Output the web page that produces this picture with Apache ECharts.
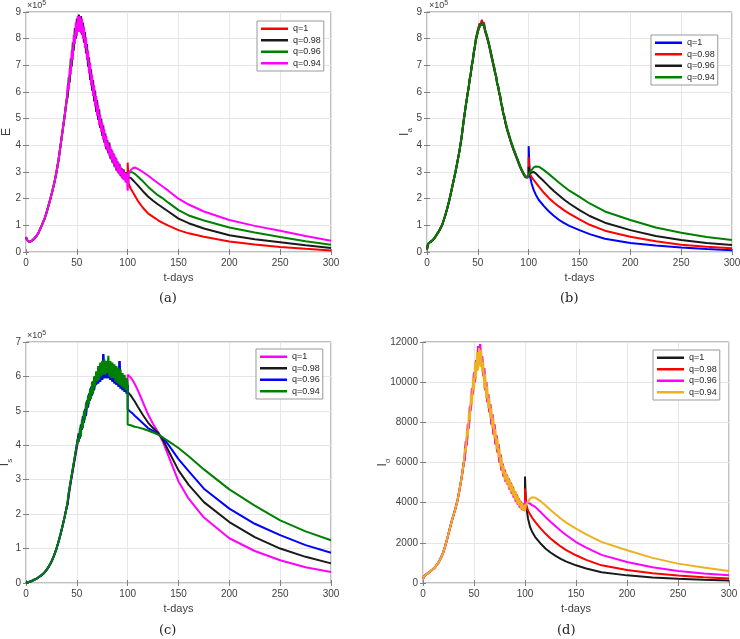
<!DOCTYPE html>
<html><head><meta charset="utf-8">
<script src="https://cdn.jsdelivr.net/npm/echarts@6/dist/echarts.min.js"></script>
<style>html,body{margin:0;padding:0;background:#fff}#c{width:740px;height:639px}</style>
</head><body><div id="c"></div>
<script>
// ---------- shared time grids (days) ----------
const tRise = [0,1,2,3,5,7,10,12,15,18,20,22,24,26,28,30,32,34,36,38,40];
const tPeak = [41,42,43,44,45,46,47,48,49,50,51,52,53,54,55,56,57,58,59,60,
  61,62,63,64,65,66,67,68,69,70,71,72,73,74,75,76,77,78,79,80,
  81,82,83,84,85,86,87,88,89,90,91,92,93,94,95,96,97,98,99,100];
const tPost = [101,103,105,107,110,115,120,125,130,135,140,150,160,175,200,225,250,275,300];
const qNames = ['q=1','q=0.98','q=0.96','q=0.94'];
const xTicks = [0,50,100,150,200,250,300];

// ---------- panel (a): E (x10^5) ----------
const aRise = [0.56,0.45,0.39,0.38,0.40,0.46,0.58,0.70,0.95,1.22,1.45,1.72,2.0,2.3,2.62,3.0,3.45,4.0,4.55,5.1,5.7];
const aPeakSmooth = [6.0,6.3,6.6,6.95,7.25,7.55,7.85,8.1,8.3,8.45, 8.55,8.6,8.6,8.55,8.45,8.3,8.15,7.95,7.75,7.5,
  7.25,7.0,6.78,6.55,6.35,6.15,5.95,5.75,5.55,5.4, 5.22,5.05,4.9,4.75,4.6,4.48,4.35,4.22,4.1,4.0,
  3.9,3.8,3.72,3.64,3.56,3.48,3.41,3.34,3.27,3.2, 3.14,3.08,3.03,2.98,2.94,2.9,2.87,2.85,2.83,2.82];
const aPeakTop = [6.25,6.05,6.9,6.65,7.55,7.2,8.15,7.8,8.6,8.1, 8.85,8.25,8.85,8.2,8.75,8.0,8.45,7.65,8.05,7.2,
  7.55,6.7,7.1,6.25,6.65,5.85,6.25,5.45,5.85,5.1, 5.5,4.75,5.15,4.5,4.85,4.2,4.6,3.95,4.35,3.8,
  4.1,3.6,3.95,3.45,3.8,3.3,3.65,3.15,3.5,3.0, 3.35,2.9,3.2,2.8,3.1,2.7,3.0,2.6,2.95,2.3];
const aPeakUnder = [5.8,6.55,6.35,7.25,6.95,7.85,7.55,8.4,8.0,8.75, 8.25,8.9,8.3,8.85,8.15,8.6,7.85,8.25,7.45,7.8,
  6.95,7.3,6.45,6.85,6.05,6.45,5.65,6.05,5.25,5.7, 4.95,5.35,4.65,5.0,4.35,4.75,4.1,4.45,3.85,4.2,
  3.7,4.1,3.5,3.85,3.35,3.7,3.2,3.55,3.05,3.4, 2.95,3.3,2.85,3.15,2.75,3.1,2.7,3.0,2.65,2.8];
const aJump = [3.35, null, null, null];
const aPostQ1   = [2.55,2.38,2.25,2.12,1.92,1.66,1.45,1.32,1.19,1.08,0.99,0.82,0.70,0.57,0.39,0.28,0.19,0.12,0.06];
const aPostQ098 = [2.85,2.78,2.70,2.62,2.50,2.28,2.08,1.92,1.78,1.65,1.52,1.25,1.08,0.88,0.63,0.48,0.37,0.25,0.15];
const aPostQ096 = [2.95,3.00,2.98,2.93,2.83,2.65,2.45,2.28,2.12,2.00,1.85,1.57,1.37,1.18,0.92,0.73,0.56,0.40,0.27];
const aPostQ094 = [2.95,3.07,3.14,3.17,3.12,3.00,2.87,2.72,2.58,2.44,2.30,2.00,1.78,1.52,1.20,0.98,0.80,0.60,0.42];

// ---------- panel (b): I_a (x10^5) ----------
const bRise = [0.10,0.30,0.34,0.37,0.42,0.50,0.68,0.80,1.02,1.38,1.65,1.95,2.3,2.65,3.0,3.4,3.8,4.3,4.9,5.45,5.95];
const bPeak = [6.2,6.45,6.7,6.95,7.2,7.45,7.7,7.92,8.1,8.25, 8.38,8.48,8.55,8.58,8.55,8.48,8.35,8.22,8.1,7.95,
  7.8,7.63,7.45,7.28,7.1,6.95,6.75,6.55,6.35,6.18, 6.0,5.8,5.6,5.4,5.22,5.05,4.9,4.75,4.6,4.48,
  4.35,4.22,4.1,4.0,3.88,3.78,3.68,3.58,3.48,3.38, 3.28,3.18,3.1,3.02,2.95,2.88,2.83,2.8,2.82,2.88];
const bPeakUnder = [6.15,6.5,6.65,7.0,7.15,7.5,7.65,7.98,8.05,8.32, 8.32,8.58,8.5,8.7,8.5,8.6,8.3,8.3,8.05,8.0,
  7.75,7.68,7.4,7.33,7.05,7.0,6.7,6.6,6.3,6.22, 5.95,5.85,5.55,5.45,5.18,5.1,4.86,4.8,4.56,4.52,
  4.31,4.26,4.06,4.04,3.84,3.82,3.64,3.62,3.44,3.42, 3.24,3.22,3.06,3.06,2.91,2.92,2.8,2.84,2.79,2.9];
const bJump = [3.97, 3.55, 3.2, null];
const bPostQ1   = [2.90,2.55,2.32,2.15,1.95,1.72,1.52,1.35,1.20,1.08,0.98,0.82,0.67,0.50,0.34,0.24,0.17,0.11,0.07];
const bPostQ098 = [2.95,2.80,2.70,2.60,2.45,2.22,2.02,1.85,1.70,1.56,1.44,1.22,1.02,0.80,0.57,0.40,0.27,0.20,0.14];
const bPostQ096 = [2.95,2.98,3.00,2.95,2.83,2.65,2.46,2.28,2.12,1.96,1.82,1.57,1.35,1.10,0.82,0.60,0.45,0.34,0.26];
const bPostQ094 = [2.98,3.08,3.17,3.21,3.20,3.07,2.92,2.76,2.60,2.45,2.30,2.07,1.82,1.52,1.20,0.92,0.72,0.56,0.45];

// ---------- panel (c): I_s (x10^5) ----------
const cRise = [0.0,0.01,0.02,0.03,0.05,0.08,0.12,0.16,0.22,0.30,0.37,0.46,0.56,0.68,0.83,1.0,1.2,1.42,1.66,1.92,2.2];
const cPeakSmooth = [2.35,2.52,2.7,2.9,3.08,3.25,3.42,3.58,3.75,3.92, 4.07,4.22,4.36,4.5,4.63,4.76,4.88,5.0,5.1,5.2,
  5.3,5.4,5.5,5.58,5.66,5.74,5.82,5.9,5.96,6.02, 6.07,6.12,6.16,6.19,6.22,6.24,6.26,6.27,6.27,6.27,
  6.26,6.25,6.23,6.21,6.19,6.16,6.13,6.1,6.07,6.04, 6.01,5.98,5.95,5.92,5.89,5.86,5.83,5.8,5.78,5.75];
const cPeakTop = [2.4,2.45,2.8,2.85,3.15,3.2,3.5,3.5,3.85,3.85, 4.2,4.1,4.5,4.25,4.75,4.5,5.0,4.75,5.25,5.05,
  5.45,5.2,5.65,5.35,5.85,5.5,6.0,5.7,6.15,5.85, 6.3,5.9,6.4,6.0,6.45,6.05,6.5,6.05,6.45,6.1,
  6.6,6.0,6.45,5.95,6.4,5.95,6.35,5.85,6.3,5.8, 6.25,5.75,6.2,5.7,6.1,5.65,6.05,5.6,5.95,5.75];
const cPeakUnder = [2.3,2.6,2.6,2.95,2.95,3.3,3.3,3.65,3.6,4.0, 3.95,4.35,4.2,4.6,4.45,4.85,4.65,5.05,4.85,5.3,
  5.1,5.5,5.3,5.7,5.45,5.85,5.6,6.0,5.75,6.1, 5.8,6.2,5.85,6.3,5.9,6.65,5.95,6.35,5.95,6.3,
  5.95,6.3,5.9,6.25,5.85,6.2,5.8,6.15,5.75,6.1, 5.7,6.45,5.65,6.0,5.6,5.95,5.55,5.9,5.5,5.75];
const cJump = [6.05, 5.55, 5.05, 4.6];
const cPostQ1   = [6.03,5.97,5.88,5.78,5.60,5.25,4.90,4.62,4.38,4.08,3.70,2.95,2.45,1.90,1.30,0.93,0.66,0.46,0.32];
const cPostQ098 = [5.53,5.45,5.36,5.27,5.12,4.88,4.66,4.50,4.36,4.14,3.85,3.27,2.85,2.35,1.77,1.33,1.00,0.76,0.57];
const cPostQ096 = [5.03,4.97,4.92,4.86,4.78,4.64,4.50,4.42,4.32,4.20,4.02,3.60,3.25,2.74,2.16,1.72,1.39,1.10,0.88];
const cPostQ094 = [4.60,4.58,4.56,4.54,4.52,4.48,4.43,4.37,4.31,4.22,4.12,3.92,3.68,3.30,2.72,2.25,1.82,1.50,1.24];

// ---------- panel (d): I_o ----------
const dRise = [200,320,380,420,490,570,700,800,1000,1300,1550,1880,2250,2650,3050,3400,3750,4150,4700,5300,6000];
const dPeakSmooth = [6400,6800,7200,7600,8000,8450,8900,9300,9700,10050, 10400,10700,10950,11150,11250,11250,11150,10900,10600,10200,
  9950,9650,9350,9050,8800,8500,8250,8000,7750,7500, 7250,7000,6800,6550,6300,6050,5850,5700,5550,5400,
  5280,5160,5050,4950,4850,4750,4650,4550,4450,4350, 4250,4150,4060,3980,3910,3850,3800,3760,3730,3700];
const dPeakTop = [6700,6500,7600,7300,8500,8100,9400,8900,10200,9600, 11000,10200,11500,10600,11700,10800,11600,10500,11000,9700,
  10400,9200,9800,8700,9200,8200,8700,7700,8200,7200, 7650,6650,7200,6250,6700,5800,6250,5450,5850,5150,
  5550,4950,5350,4750,5150,4550,4950,4350,4750,4150, 4550,3950,4350,3850,4150,3700,4000,3600,3900,3600];
const dPeakUnder = [6150,7050,6850,7900,7700,8800,8600,9700,9400,10500, 10000,11100,10600,11800,10900,11900,10800,11300,10300,10700,
  9600,10000,9000,9400,8500,8900,7900,8400,7400,7900, 6900,7350,6500,6900,6000,6400,5600,5950,5300,5650,
  5050,5400,4900,5200,4650,5000,4450,4800,4250,4550, 4050,4400,3900,4200,3750,4050,3650,3950,3600,3700];
const dJump = [5300, 4700, 4100, null];
const dPostQ1   = [3900,3200,2790,2550,2290,1980,1720,1520,1350,1200,1080,880,720,540,380,270,210,160,120];
const dPostQ098 = [3950,3600,3420,3250,3040,2730,2460,2220,2010,1820,1650,1380,1150,880,650,480,370,290,230];
const dPostQ096 = [4000,3980,3950,3880,3790,3550,3290,3050,2820,2600,2400,2040,1760,1400,1045,780,600,470,380];
const dPostQ094 = [3900,4050,4200,4270,4250,4080,3870,3640,3420,3210,3020,2710,2420,2050,1630,1250,965,770,600];

// ---------- styling / layout ----------
const FONT = 'Liberation Sans, Arial, Helvetica, sans-serif';
const C = {red:'#ff0000', black:'#1a1a1a', green:'#008000', magenta:'#ff00ff', blue:'#0000ff', orange:'#EDB120'};

const panels = [
  { grid:{left:26, top:12, width:305, height:240}, yMax:9, yInt:1, yName:'E', nameGap:10,
    colors:[C.red,C.black,C.green,C.magenta], peaks:[aPeakSmooth,aPeakUnder,aPeakSmooth,aPeakTop],
    rise:aRise, jump:aJump, posts:[aPostQ1,aPostQ098,aPostQ096,aPostQ094],
    legend:{left:257, top:21}, caption:'(a)', cap:[169,300], sci:[27,6] },
  { grid:{left:427, top:12, width:305, height:240}, yMax:9, yInt:1, yName:'I{s|a}', nameGap:13,
    colors:[C.blue,C.red,C.black,C.green], peaks:[bPeakUnder,bPeakUnder,bPeak,bPeak],
    rise:bRise, jump:bJump, posts:[bPostQ1,bPostQ098,bPostQ096,bPostQ094],
    legend:{left:651, top:35}, caption:'(b)', cap:[570,300], sci:[429,6] },
  { grid:{left:26, top:342, width:305, height:241}, yMax:7, yInt:1, yName:'I{s|s}', nameGap:12,
    colors:[C.magenta,C.black,C.blue,C.green], peaks:[cPeakSmooth,cPeakUnder,cPeakUnder,cPeakTop],
    rise:cRise, jump:cJump, posts:[cPostQ1,cPostQ098,cPostQ096,cPostQ094],
    legend:{left:256, top:349}, caption:'(c)', cap:[169,632], sci:[27,336] },
  { grid:{left:423, top:342, width:306, height:241}, yMax:12000, yInt:2000, yName:'I{s|o}', nameGap:31,
    colors:[C.black,C.red,C.magenta,C.orange], peaks:[dPeakSmooth,dPeakUnder,dPeakUnder,dPeakTop],
    rise:dRise, jump:dJump, posts:[dPostQ1,dPostQ098,dPostQ096,dPostQ094],
    legend:{left:653, top:350}, caption:'(d)', cap:[567,632], sci:null }
];

const grid=[], xAxis=[], yAxis=[], series=[], legend=[], graphic=[];
const tickStyle = {show:true, inside:true, length:3, lineStyle:{color:'#808080'}};
panels.forEach((p,i)=>{
  grid.push(Object.assign({show:true, borderColor:'#808080', borderWidth:1, backgroundColor:'#fff',
    containLabel:false, outerBoundsMode:'none'}, p.grid));
  xAxis.push({type:'value', gridIndex:i, min:0, max:300, interval:50, position:'bottom',
    axisLine:{show:false}, axisTick:tickStyle,
    splitLine:{show:true, lineStyle:{color:'#e6e6e6', width:1}},
    axisLabel:{color:'#404040', fontSize:10, fontFamily:FONT, margin:6},
    name:'t-days', nameLocation:'middle', nameGap:20, nameMoveOverlap:false,
    nameTextStyle:{color:'#404040', fontSize:11, fontFamily:FONT}});
  xAxis.push({type:'value', gridIndex:i, min:0, max:300, interval:50, position:'top',
    axisLine:{show:false}, axisTick:tickStyle, splitLine:{show:false}, axisLabel:{show:false}});
  yAxis.push({type:'value', gridIndex:i, min:0, max:p.yMax, interval:p.yInt, position:'left',
    axisLine:{show:false}, axisTick:tickStyle,
    splitLine:{show:true, lineStyle:{color:'#e6e6e6', width:1}},
    axisLabel:{color:'#404040', fontSize:10, fontFamily:FONT, margin:5, formatter:v=>String(v)},
    name:p.yName, nameLocation:'middle', nameRotate:90, nameGap:p.nameGap, nameMoveOverlap:false,
    nameTextStyle:{color:'#404040', fontSize:12, fontFamily:FONT, lineHeight:18,
      rich:{s:{fontSize:8, fontFamily:FONT, color:'#404040', verticalAlign:'bottom', lineHeight:18}}}});
  yAxis.push({type:'value', gridIndex:i, min:0, max:p.yMax, interval:p.yInt, position:'right',
    axisLine:{show:false}, axisTick:tickStyle, splitLine:{show:false}, axisLabel:{show:false}});
  const names=[];
  qNames.forEach((q,k)=>{
    const nm = q+'|'+i;
    names.push(nm);
    const data = [];
    tRise.forEach((t,j)=>data.push([t,p.rise[j]]));
    tPeak.forEach((t,j)=>data.push([t,p.peaks[k][j]]));
    if(p.jump[k]!==null) data.push([100,p.jump[k]]);
    tPost.forEach((t,j)=>data.push([t,p.posts[k][j]]));
    series.push({type:'line', name:nm, xAxisIndex:2*i, yAxisIndex:2*i, data, symbol:'none',
      showSymbol:false, animation:false, color:p.colors[k],
      lineStyle:{width:2, color:p.colors[k]}, z:2+k});
  });
  legend.push({data:names, orient:'vertical', left:p.legend.left, top:p.legend.top,
    icon:'rect', itemWidth:27, itemHeight:2.5, itemGap:0, selectedMode:false,
    padding:[2,3,2,4], borderColor:'#999', borderWidth:1, backgroundColor:'#fff',
    textStyle:{fontSize:9, fontFamily:FONT, color:'#262626', lineHeight:11.5},
    formatter:n=>n.split('|')[0]});
  graphic.push({type:'text', left:p.cap[0]-10, top:p.cap[1]-8,
    style:{text:p.caption, font:'13px "DejaVu Serif", "Liberation Serif", serif', fill:'#222'}});
  if(p.sci){
    graphic.push({type:'text', left:p.sci[0], top:p.sci[1]-6,
      style:{text:'×10{u|5}', fontSize:9, fontFamily:FONT, fill:'#404040',
        rich:{u:{fontSize:7, fontFamily:FONT, fill:'#404040', verticalAlign:'top', lineHeight:12}}}});
  }
});

const chart = echarts.init(document.getElementById('c'), null, {renderer:'canvas'});
chart.setOption({animation:false, backgroundColor:'#fff', grid, xAxis, yAxis, series, legend, graphic});
</script>
</body></html>
